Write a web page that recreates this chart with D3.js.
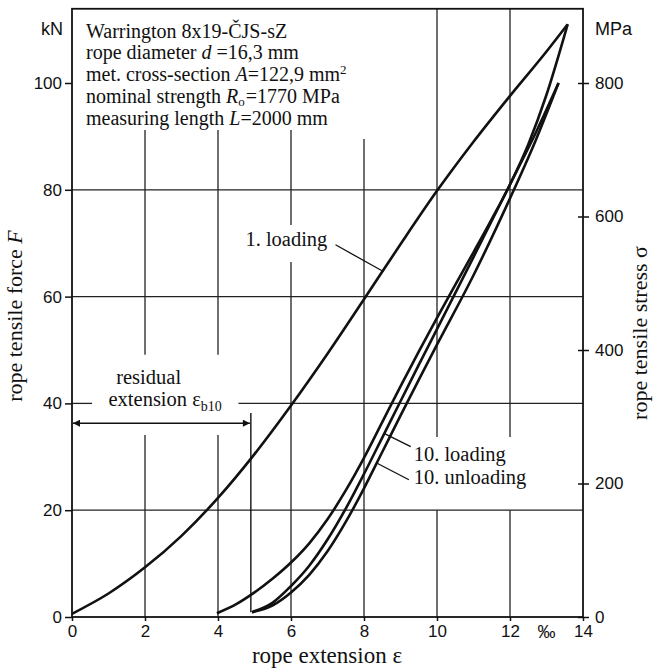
<!DOCTYPE html>
<html>
<head>
<meta charset="utf-8">
<script src="https://cdn.jsdelivr.net/npm/d3@7"></script>
<style>
  body { margin: 0; background: #fff; }
  svg text { fill: #111; }
  .serif { font-family: "Liberation Serif", "Times New Roman", serif; }
  .sans { font-family: "Liberation Sans", Arial, sans-serif; }
</style>
</head>
<body>
<div id="chart"></div>
<script>
// values (extension in per mille, force in kN)
const eps1Load   = [0, 1, 2, 3, 4, 5, 6, 7, 8, 9, 10, 11, 12, 13, 13.58];
const force1Load = [0.6, 4.4, 9.3, 15.2, 22.3, 30.5, 39.6, 49.3, 59.5, 69.8, 79.8, 89.0, 97.6, 105.9, 111];

const eps1Unload   = [3.97, 4.5, 5, 5.5, 6, 6.5, 7, 7.5, 8, 8.5, 9, 9.5, 10, 10.5, 11, 11.5, 12, 12.5, 13, 13.58];
const force1Unload = [0.7, 2.4, 4.6, 7.2, 10.2, 13.8, 18.3, 23.7, 29.8, 36.5, 43.2, 49.7, 56.0, 62.2, 68.3, 74.5, 81.0, 88.5, 97.8, 111];

const eps10Load   = [4.93, 5.5, 6, 6.5, 7, 7.5, 8, 8.5, 9, 9.5, 10, 11, 12, 12.7, 13.33];
const force10Load = [0.9, 2.7, 5.8, 9.6, 14.5, 20.3, 26.8, 33.6, 40.4, 47.2, 53.9, 67.4, 81.0, 90.6, 100];

const eps10Unload   = [4.93, 5.5, 6, 6.5, 7, 7.5, 8, 8.5, 9, 9.5, 10, 11, 12, 12.7, 13.33];
const force10Unload = [0.9, 2.2, 4.6, 7.9, 12.3, 17.8, 24.1, 30.9, 37.7, 44.4, 51.0, 64.0, 78.4, 89.2, 100];

const residualEps = 4.9;

const xTicks = [0, 2, 4, 6, 8, 10, 12, 14];
const forceTicks = [0, 20, 40, 60, 80, 100];
const stressTicks = [0, 200, 400, 600, 800];

const W = 662, H = 672;
const forceTop = 113.9;

const svg = d3.select('#chart').append('svg')
    .attr('width', W)
    .attr('height', H);

const x = d3.scaleLinear().domain([0, 14]).range([72, 583]);
const y = d3.scaleLinear().domain([0, 100]).range([617, 83]);
// right axis: 800 MPa sits level with 100 kN
const y2 = d3.scaleLinear().domain([0, 800]).range([617, 83]);

// grid lines, broken where the labels sit (spans in data units)
const gridV = [
    { at: 2, spans: [[0, 34.1], [49.1, 91.2]] },
    { at: 4, spans: [[0, 34.1], [49.1, 91.2]] },
    { at: 6, spans: [[0, 66.5], [73.4, 91.2]] },
    { at: 8, spans: [[0, 89.5]] },
    { at: 10, spans: [[0, 20], [33.7, forceTop]] },
    { at: 12, spans: [[0, 20], [33.7, forceTop]] }
];
const gridH = [
    { at: 20, spans: [[0, 14]] },
    { at: 40, spans: [[0, 0.55], [4.56, 14]] },
    { at: 60, spans: [[0, 14]] },
    { at: 80, spans: [[0, 14]] }
];

const grid = svg.append('g').attr('stroke', '#222').attr('stroke-width', 1.3);
gridV.forEach(g => g.spans.forEach(s => {
    grid.append('line')
        .attr('x1', x(g.at)).attr('x2', x(g.at))
        .attr('y1', y(s[0])).attr('y2', y(s[1]));
}));
gridH.forEach(g => g.spans.forEach(s => {
    grid.append('line')
        .attr('x1', x(s[0])).attr('x2', x(s[1]))
        .attr('y1', y(g.at)).attr('y2', y(g.at));
}));

// frame
svg.append('rect')
    .attr('x', x(0)).attr('y', y(forceTop))
    .attr('width', x(14) - x(0)).attr('height', y(0) - y(forceTop))
    .attr('fill', 'none').attr('stroke', '#111').attr('stroke-width', 1.8);

// axes
const leftAxis = svg.append('g')
    .attr('class', 'sans')
    .attr('transform', `translate(${x(0)},0)`)
    .call(d3.axisLeft(y).tickValues(forceTicks).tickSize(7).tickPadding(3));

const rightAxis = svg.append('g')
    .attr('class', 'sans')
    .attr('transform', `translate(${x(14)},0)`)
    .call(d3.axisRight(y2).tickValues(stressTicks).tickSize(6).tickPadding(6));
rightAxis.selectAll('.tick line').attr('x1', -5);

const bottomAxis = svg.append('g')
    .attr('class', 'sans')
    .attr('transform', `translate(0,${y(0)})`)
    .call(d3.axisBottom(x).tickValues(xTicks).tickSize(4).tickPadding(4));

[leftAxis, rightAxis, bottomAxis].forEach(a => {
    a.select('.domain').remove();
    a.selectAll('.tick line').attr('stroke', '#111').attr('stroke-width', 1.5);
    a.selectAll('.tick text').attr('font-size', 17).attr('fill', '#111');
});

// per mille sign between 12 and 14
svg.append('text')
    .attr('class', 'sans')
    .attr('x', x(13)).attr('y', y(0) + 21)
    .attr('text-anchor', 'middle')
    .attr('font-size', 18)
    .text('\u2030');

// unit labels
svg.append('text').attr('class', 'sans')
    .attr('x', 63).attr('y', 35).attr('text-anchor', 'end')
    .attr('font-size', 18).text('kN');
svg.append('text').attr('class', 'sans')
    .attr('x', 595).attr('y', 35)
    .attr('font-size', 18).text('MPa');

// axis titles
svg.append('text').attr('class', 'serif')
    .attr('x', 327).attr('y', 663)
    .attr('text-anchor', 'middle').attr('font-size', 23)
    .text('rope extension \u03b5');

const lt = svg.append('text').attr('class', 'serif')
    .attr('transform', 'translate(22,316) rotate(-90)')
    .attr('text-anchor', 'middle').attr('font-size', 22);
lt.append('tspan').text('rope tensile force ');
lt.append('tspan').attr('font-style', 'italic').text('F');

svg.append('text').attr('class', 'serif')
    .attr('transform', 'translate(647,333) rotate(-90)')
    .attr('text-anchor', 'middle').attr('font-size', 22)
    .text('rope tensile stress \u03c3');

// info block
const info = svg.append('g').attr('class', 'serif').attr('font-size', 20);
const infoLines = [
    [['Warrington 8x19-\u010cJS-sZ']],
    [['rope diameter '], ['d', 'i'], [' =16,3 mm']],
    [['met. cross-section '], ['A', 'i'], ['=122,9 mm'], ['2', 'sup']],
    [['nominal strength '], ['R', 'i'], ['o', 'sub'], ['=1770 MPa']],
    [['measuring length '], ['L', 'i'], ['=2000 mm']]
];
infoLines.forEach((parts, i) => {
    const t = info.append('text').attr('x', 86).attr('y', 37.5 + i * 21.8);
    let shift = 0;
    parts.forEach(p => {
        const s = t.append('tspan').text(p[0]);
        if (shift) { s.attr('dy', -shift).attr('dx', 1); shift = 0; }
        if (p[1] === 'i') s.attr('font-style', 'italic');
        if (p[1] === 'sup') { s.attr('font-size', 13).attr('dy', -7); shift = -7; }
        if (p[1] === 'sub') { s.attr('font-size', 13).attr('dy', 3); shift = 3; }
    });
});

// curves
const line = d3.line()
    .x(d => x(d[0]))
    .y(d => y(d[1]))
    .curve(d3.curveMonotoneX);

const curves = [
    d3.zip(eps1Load, force1Load),
    d3.zip(eps1Unload, force1Unload),
    d3.zip(eps10Load, force10Load),
    d3.zip(eps10Unload, force10Unload)
];
svg.append('g')
    .selectAll('path')
    .data(curves)
    .join('path')
    .attr('d', line)
    .attr('fill', 'none')
    .attr('stroke', '#111')
    .attr('stroke-width', 2.6)
    .attr('stroke-linejoin', 'round');

// residual extension marker
svg.append('line')
    .attr('x1', x(residualEps)).attr('x2', x(residualEps))
    .attr('y1', y(38.2)).attr('y2', y(force10Load[0]))
    .attr('stroke', '#111').attr('stroke-width', 1.4);

const defs = svg.append('defs');
defs.append('marker')
    .attr('id', 'arrow')
    .attr('viewBox', '0 0 10 10')
    .attr('refX', 10).attr('refY', 5)
    .attr('markerWidth', 14).attr('markerHeight', 7)
    .attr('markerUnits', 'userSpaceOnUse')
    .attr('orient', 'auto-start-reverse')
    .append('path').attr('d', 'M0,0 L10,5 L0,10 Z').attr('fill', '#111');

svg.append('line')
    .attr('x1', x(0) + 1).attr('x2', x(residualEps) - 1)
    .attr('y1', y(36.3)).attr('y2', y(36.3))
    .attr('stroke', '#111').attr('stroke-width', 1.5)
    .attr('marker-start', 'url(#arrow)')
    .attr('marker-end', 'url(#arrow)');

// annotations
const ann = svg.append('g').attr('class', 'serif').attr('font-size', 20.5);
ann.append('text').attr('x', x(2.1)).attr('y', y(43.7)).attr('text-anchor', 'middle').text('residual');
const re = ann.append('text').attr('x', x(1.0)).attr('y', y(39.5));
re.append('tspan').text('extension \u03b5');
re.append('tspan').attr('font-size', 14).attr('dy', 5).text('b10');

ann.append('text').attr('x', x(4.75)).attr('y', y(69.4)).text('1. loading');
ann.append('text').attr('x', x(9.36)).attr('y', y(29.3)).text('10. loading');
ann.append('text').attr('x', x(9.36)).attr('y', y(24.9)).text('10. unloading');

const leaders = [
    [[7.22, 69.7], [8.53, 64.7]],
    [[9.28, 31.9], [8.55, 34.4]],
    [[9.23, 25.7], [8.36, 28.8]]
];
svg.append('g')
    .selectAll('line')
    .data(leaders)
    .join('line')
    .attr('x1', d => x(d[0][0])).attr('y1', d => y(d[0][1]))
    .attr('x2', d => x(d[1][0])).attr('y2', d => y(d[1][1]))
    .attr('stroke', '#111').attr('stroke-width', 1.3);
</script>
</body>
</html>
